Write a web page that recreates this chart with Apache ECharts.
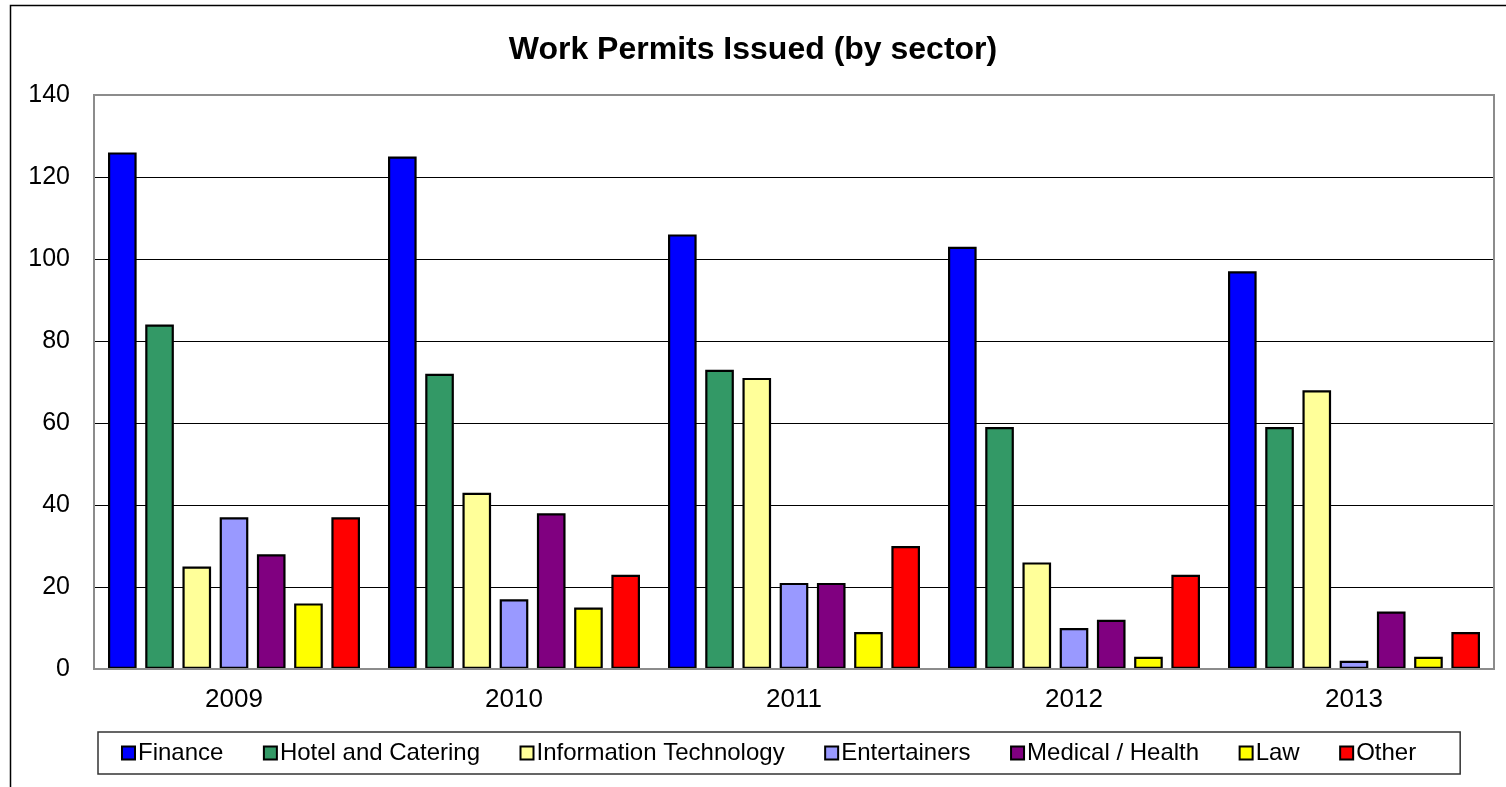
<!DOCTYPE html>
<html>
<head>
<meta charset="utf-8">
<title>Work Permits Issued (by sector)</title>
<script src="https://cdn.jsdelivr.net/npm/echarts@6/dist/echarts.min.js"></script>
<style>
  html, body { margin: 0; padding: 0; background: #fff; }
  #chart { width: 1506px; height: 787px; }
</style>
</head>
<body>
<div id="chart"></div>
<script>
// data
var years = ['2009', '2010', '2011', '2012', '2013'];
var sectors = ['Finance', 'Hotel and Catering', 'Information Technology', 'Entertainers', 'Medical / Health', 'Law', 'Other'];
var finance = [126, 125, 106, 103, 97];
var hotel = [84, 72, 73, 59, 59];
var infoTech = [25, 43, 71, 26, 68];
var entertainers = [37, 17, 21, 10, 2];
var medical = [28, 38, 21, 12, 14];
var law = [16, 15, 9, 3, 3];
var other = [37, 23, 30, 23, 9];
var yTicks = [0, 20, 40, 60, 80, 100, 120, 140];

var values = [finance, hotel, infoTech, entertainers, medical, law, other];
var colors = ['#0000ff', '#339966', '#ffff99', '#9999ff', '#800080', '#ffff00', '#ff0000'];
var font = '"Liberation Sans", Arial, sans-serif';

// plot area (px)
var gridL = 94, gridR = 12, gridT = 95, gridB = 118;
var W = 1506, H = 787;

var myChart = echarts.init(document.getElementById('chart'));

var series = sectors.map(function (name, i) {
  return {
    name: name,
    type: 'bar',
    data: values[i],
    barGap: '30%',
    barCategoryGap: '10%',
    itemStyle: {
      color: colors[i],
      borderColor: '#000',
      borderWidth: 2.2
    },
    emphasis: { disabled: true }
  };
});

var option = {
  animation: false,
  backgroundColor: '#fff',
  textStyle: { fontFamily: font },
  graphic: [{
    // outer chart frame
    type: 'rect',
    shape: { x: 10.5, y: 5.5, width: 1600, height: 900 },
    style: { fill: 'none', stroke: '#000', lineWidth: 1.5 },
    silent: true
  }, {
    // grey plot frame, on top of the grid lines
    type: 'rect',
    z: 100,
    shape: { x: gridL, y: gridT, width: W - gridL - gridR, height: H - gridT - gridB },
    style: { fill: 'none', stroke: '#8c8c8c', lineWidth: 2 },
    silent: true
  }],
  title: {
    text: 'Work Permits Issued (by sector)',
    left: 'center',
    top: 29,
    textStyle: {
      fontFamily: font,
      fontWeight: 'bold',
      fontSize: 32,
      color: '#000'
    }
  },
  grid: {
    left: gridL,
    right: gridR,
    top: gridT,
    bottom: gridB,
    show: true,
    borderWidth: 0,
    backgroundColor: '#fff'
  },
  legend: {
    data: sectors,
    left: 98,
    top: 732,
    padding: [9, 44, 9, 23],
    itemGap: 39.5,
    itemWidth: 13,
    itemHeight: 13,
    icon: 'rect',
    borderColor: '#333',
    borderWidth: 1.5,
    textStyle: { fontFamily: font, fontSize: 24, color: '#000', padding: [0, 0, 0, -2] }
  },
  xAxis: {
    type: 'category',
    data: years,
    axisLine: { show: true, lineStyle: { color: '#8c8c8c', width: 2 } },
    axisTick: { show: false },
    axisLabel: { color: '#000', fontFamily: font, fontSize: 26, margin: 18 }
  },
  yAxis: {
    type: 'value',
    min: yTicks[0],
    max: yTicks[yTicks.length - 1],
    interval: 20,
    axisLine: { show: true, lineStyle: { color: '#8c8c8c', width: 2 } },
    axisTick: { show: false },
    splitLine: { lineStyle: { color: '#000', width: 1 } },
    axisLabel: { color: '#000', fontFamily: font, fontSize: 25, margin: 24 }
  },
  series: series
};

myChart.setOption(option);
</script>
</body>
</html>
